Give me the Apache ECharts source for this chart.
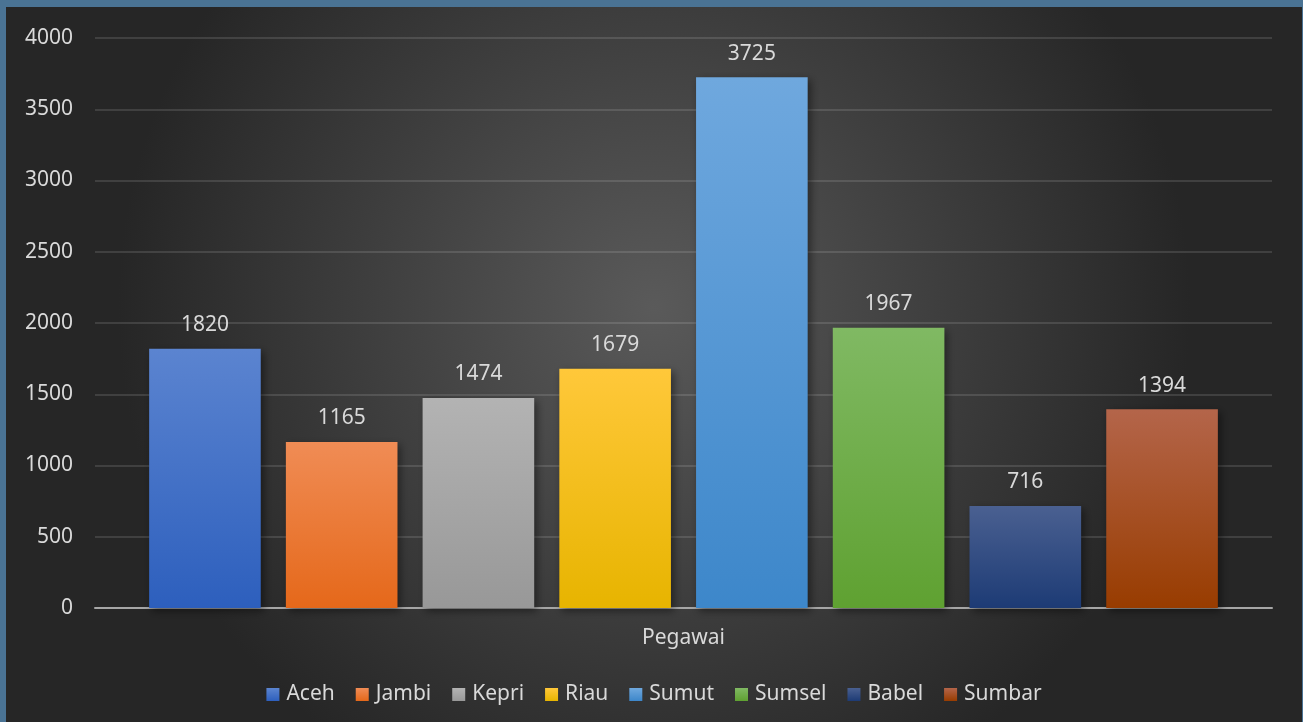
<!DOCTYPE html>
<html>
<head>
<meta charset="utf-8">
<script src="https://cdn.jsdelivr.net/npm/echarts@6/dist/echarts.min.js"></script>
<style>
  html, body { margin: 0; padding: 0; width: 1303px; height: 722px; background: #4a7394; overflow: hidden; }
  #chart { position: absolute; left: 6px; top: 7px; width: 1296px; height: 715px; }
</style>
</head>
<body>
<div id="chart"></div>
<script>
// data
var categories = ['Pegawai'];
var seriesNames = ['Aceh', 'Jambi', 'Kepri', 'Riau', 'Sumut', 'Sumsel', 'Babel', 'Sumbar'];
var seriesValues = [1820, 1165, 1474, 1679, 3725, 1967, 716, 1394];
var yTicks = [0, 500, 1000, 1500, 2000, 2500, 3000, 3500, 4000];

// top / bottom colours of each bar
var colorTop = ['#5b84d0', '#f08c55', '#b3b3b3', '#ffc83a', '#6fa8de', '#80b963', '#4a6091', '#b4654a'];
var colorBottom = ['#2d5fbd', '#e5681a', '#989898', '#e7b400', '#3d87ca', '#5fa131', '#1d3b75', '#983c00'];

var font = 'Noto Sans';
var textColor = '#d9d9d9';

var chart = echarts.init(document.getElementById('chart'));

var series = seriesNames.map(function (name, i) {
    return {
        name: name,
        type: 'bar',
        data: [seriesValues[i]],
        barGap: '22.5%',
        barCategoryGap: '9.2%',
        itemStyle: {
            color: new echarts.graphic.LinearGradient(0, 0, 0, 1, [
                {offset: 0, color: colorTop[i]},
                {offset: 1, color: colorBottom[i]}
            ]),
            shadowBlur: 8, shadowOffsetX: 3, shadowOffsetY: 3, shadowColor: 'rgba(0,0,0,0.45)'
        },
        label: {show: true, position: 'top', distance: 13, color: textColor, fontFamily: font, fontSize: 21},
        emphasis: {disabled: true}
    };
});

var option = {
    backgroundColor: new echarts.graphic.RadialGradient(0.5, 0.42, 0.75, [
        {offset: 0, color: '#5a5a5a'},
        {offset: 1, color: '#262626'}
    ]),
    animation: false,
    textStyle: {fontFamily: font},
    grid: {left: 89, right: 30, top: 31, bottom: 114},
    legend: {
        data: seriesNames,
        bottom: 12,
        left: 'center',
        itemWidth: 13,
        itemHeight: 13,
        itemGap: 21,
        icon: 'rect',
        textStyle: {color: textColor, fontFamily: font, fontSize: 21, padding: [0, 0, 0, 2]}
    },
    xAxis: {
        type: 'category',
        data: categories,
        axisLine: {lineStyle: {color: '#a6a6a6', width: 2}},
        axisTick: {show: false},
        axisLabel: {color: textColor, fontFamily: font, fontSize: 21, margin: 20}
    },
    yAxis: {
        type: 'value',
        min: yTicks[0],
        max: yTicks[yTicks.length - 1],
        interval: yTicks[1] - yTicks[0],
        axisLine: {show: false},
        axisTick: {show: false},
        axisLabel: {color: textColor, fontFamily: font, fontSize: 21, margin: 22, formatter: function (v) { return String(v); }},
        splitLine: {lineStyle: {color: 'rgba(255,255,255,0.12)', width: 2}}
    },
    series: series
};

chart.setOption(option);
</script>
</body>
</html>
